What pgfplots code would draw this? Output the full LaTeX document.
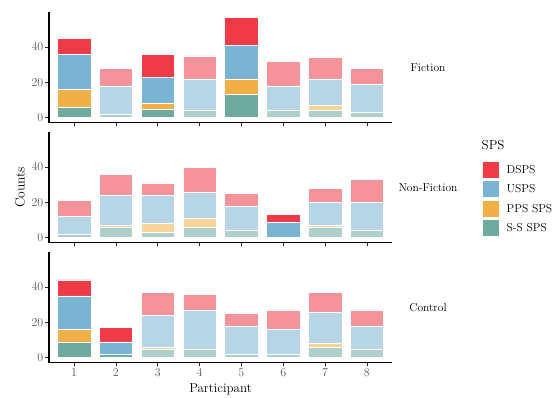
\documentclass[border=0pt]{standalone}
\usepackage{pgfplots}
\usepackage{pgfplotstable}
\pgfplotsset{compat=1.18}
\definecolor{cD}{HTML}{EF3B48}
\definecolor{cU}{HTML}{7BB3D3}
\definecolor{cP}{HTML}{F0B045}
\definecolor{cS}{HTML}{6EAA9E}
\colorlet{fD}{cD!55!white}
\colorlet{fU}{cU!55!white}
\colorlet{fP}{cP!55!white}
\colorlet{fS}{cS!55!white}

% highlighted (H) and faded (F) values per panel
\pgfplotstableread{
x ss pps usps dsps
1 6 10 20 9
2 0 0 0 0
3 5 3 15 13
4 0 0 0 0
5 13 9 19 16
6 0 0 0 0
7 0 0 0 0
8 0 0 0 0
}\fictionH
\pgfplotstableread{
x ss pps usps dsps
1 0 0 0 0
2 2 0 16 10
3 0 0 0 0
4 4 0 18 13
5 0 0 0 0
6 4 0 14 14
7 4 3 15 12
8 3 0 16 9
}\fictionF
\pgfplotstableread{
x ss pps usps dsps
1 0 0 0 0
2 0 0 0 0
3 0 0 0 0
4 0 0 0 0
5 0 0 0 0
6 0 0 9 4
7 0 0 0 0
8 0 0 0 0
}\nonfictionH
\pgfplotstableread{
x ss pps usps dsps
1 2 0 10 9
2 6 1 17 12
3 3 5 16 7
4 6 5 15 14
5 4 0 14 7
6 0 0 0 0
7 6 1 13 8
8 4 0 16 13
}\nonfictionF
\pgfplotstableread{
x ss pps usps dsps
1 9 7 19 9
2 2 0 7 8
3 0 0 0 0
4 0 0 0 0
5 0 0 0 0
6 0 0 0 0
7 0 0 0 0
8 0 0 0 0
}\controlH
\pgfplotstableread{
x ss pps usps dsps
1 0 0 0 0
2 0 0 0 0
3 5 1 18 13
4 5 0 22 9
5 2 0 16 7
6 2 0 14 11
7 6 2 18 11
8 5 0 13 9
}\controlF

\pgfplotsset{
  panel/.style={
    scale only axis, width=343pt, height=110.7pt,
    anchor=south west,
    xmin=0.4, xmax=8.6, ymin=-2.85, ymax=59.85,
    axis lines=left, axis line style={-, line width=1.3pt, black},
    ybar stacked, bar width=0.8,
    xtick={1,...,8}, ytick={0,20,40},
    tick align=outside, major tick length=3.5pt,
    tick style={line width=0.7pt, black!85},
    ticklabel style={text=black!65, font=\fontsize{12}{14}\selectfont},
    yticklabel style={inner xsep=2pt},
    xticklabel style={inner ysep=2.5pt},
    every axis plot/.append style={draw=white, line width=0.5pt},
  },
}
\newcommand{\stackplots}[2]{%
  \addplot[fill=cS] table[x=x,y=ss]{#1};
  \addplot[fill=cP] table[x=x,y=pps]{#1};
  \addplot[fill=cU] table[x=x,y=usps]{#1};
  \addplot[fill=cD] table[x=x,y=dsps]{#1};
  \addplot[fill=fS] table[x=x,y=ss]{#2};
  \addplot[fill=fP] table[x=x,y=pps]{#2};
  \addplot[fill=fU] table[x=x,y=usps]{#2};
  \addplot[fill=fD] table[x=x,y=dsps]{#2};
}

\begin{document}
\begin{tikzpicture}
\path[use as bounding box] (0,0) rectangle (557pt,397pt);

\begin{axis}[panel, at={(49pt,274.3pt)}, xticklabels={}]
\stackplots{\fictionH}{\fictionF}
\end{axis}

\begin{axis}[panel, at={(49pt,154.3pt)}, xticklabels={},
  legend style={at={(1.2653,0.731)}, anchor=north west, draw=none, fill=none,
    inner sep=0pt, row sep=4pt, column sep=8pt,
    font=\fontsize{11.5}{13}\selectfont, nodes={inner sep=0pt, text=black}},
  legend cell align=left]
\addlegendimage{legend image code/.code={\fill[cD] (0pt,-7.5pt) rectangle (15pt,7.5pt);}}
\addlegendimage{legend image code/.code={\fill[cU] (0pt,-7.5pt) rectangle (15pt,7.5pt);}}
\addlegendimage{legend image code/.code={\fill[cP] (0pt,-7.5pt) rectangle (15pt,7.5pt);}}
\addlegendimage{legend image code/.code={\fill[cS] (0pt,-7.5pt) rectangle (15pt,7.5pt);}}
\legend{DSPS, USPS, PPS SPS, S-S SPS}
\stackplots{\nonfictionH}{\nonfictionF}
\end{axis}

\begin{axis}[panel, at={(49pt,34.3pt)}]
\stackplots{\controlH}{\controlF}
\end{axis}

\node[font=\fontsize{11.5}{13}\selectfont] at (428pt,329.6pt) {Fiction};
\node[font=\fontsize{11.5}{13}\selectfont] at (428pt,209.6pt) {Non-Fiction};
\node[font=\fontsize{11.5}{13}\selectfont] at (428pt,89.6pt) {Control};
\node[font=\fontsize{13}{15}\selectfont, anchor=west, inner sep=0pt] at (481.5pt,252pt) {SPS};
\node[font=\fontsize{13.5}{15}\selectfont, rotate=90] at (20pt,209.6pt) {Counts};
\node[font=\fontsize{13}{15}\selectfont, anchor=base] at (220.5pt,5pt) {Participant};
\end{tikzpicture}
\end{document}
